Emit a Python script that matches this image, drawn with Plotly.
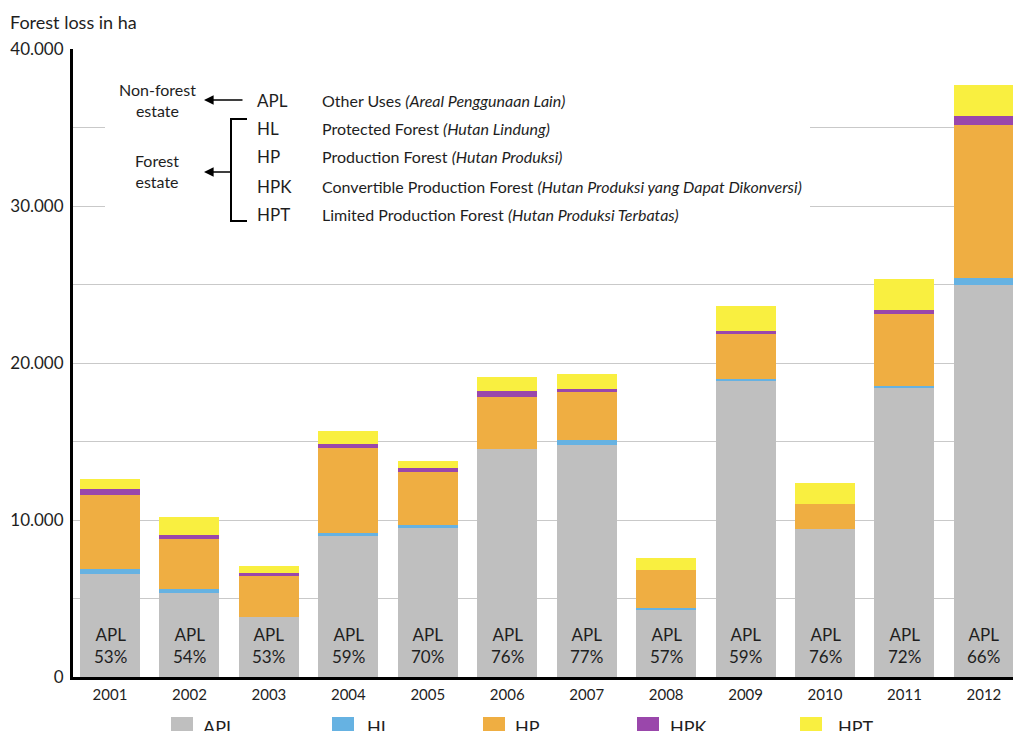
import plotly.graph_objects as go

years = ['2001', '2002', '2003', '2004', '2005', '2006', '2007', '2008', '2009', '2010', '2011', '2012']
APL = [6570, 5380, 3800, 8950, 9460, 14530, 14800, 4275, 18840, 9400, 18380, 24980]
HL = [320, 235, 0, 220, 220, 20, 320, 150, 170, 0, 130, 420]
HP = [4720, 3170, 2630, 5440, 3360, 3290, 3040, 2400, 2830, 1640, 4610, 9750]
HPK = [340, 230, 170, 210, 260, 380, 170, 0, 190, 0, 270, 590]
HPT = [660, 1190, 470, 870, 470, 890, 980, 750, 1600, 1320, 1940, 1980]
apl_pct = ['53%', '54%', '53%', '59%', '70%', '76%', '77%', '57%', '59%', '76%', '72%', '66%']

series_names = ['APL', 'HL', 'HP', 'HPK', 'HPT']
series_values = [APL, HL, HP, HPK, HPT]
colors = ['#bfbfbf', '#66b2e2', '#efae42', '#9a47ab', '#f9ef40']

codes = ['APL', 'HL', 'HP', 'HPK', 'HPT']
descs = ['Other Uses', 'Protected Forest', 'Production Forest',
         'Convertible Production Forest', 'Limited Production Forest']
descs_it = ['(Areal Penggunaan Lain)', '(Hutan Lindung)', '(Hutan Produksi)',
            '(Hutan Produksi yang Dapat Dikonversi)', '(Hutan Produksi Terbatas)']

yticks = [0, 5000, 10000, 15000, 20000, 25000, 30000, 35000, 40000]
yticktext = ['0', '', '10.000', '', '20.000', '', '30.000', '', '40.000']

FONT = 'Lato'
TXT = '#1e1e1e'
W, H = 1013, 731
L, R, T, B = 73, 0, 49, 54
PW, PH = W - L - R, H - T - B


def px(x):
    return (x - L) / PW


def py(y):
    return (H - B - y) / PH


fig = go.Figure()
for name, vals, col in zip(series_names, series_values, colors):
    fig.add_trace(go.Bar(x=years, y=vals, name=name, marker_color=col,
                         marker_line_width=0, showlegend=False, hoverinfo='skip'))

ann = []
# APL labels inside bars
for i, (yr, pct) in enumerate(zip(years, apl_pct)):
    ann.append(dict(x=i, y=py(645), xref='x', yref='paper', text='APL<br>' + pct,
                    showarrow=False, xanchor='center', yanchor='middle', align='center',
                    font=dict(size=17, color=TXT, family=FONT)))

# title
ann.append(dict(x=px(8), y=py(22), xref='paper', yref='paper', text='Forest loss in ha',
                showarrow=False, xanchor='left', yanchor='middle',
                font=dict(size=18, color=TXT, family=FONT)))

# key block
ann.append(dict(x=px(157), y=py(100), xref='paper', yref='paper', text='Non-forest<br>estate',
                showarrow=False, xanchor='center', yanchor='middle', align='center',
                font=dict(size=16, color=TXT, family=FONT)))
ann.append(dict(x=px(157), y=py(171), xref='paper', yref='paper', text='Forest<br>estate',
                showarrow=False, xanchor='center', yanchor='middle', align='center',
                font=dict(size=16, color=TXT, family=FONT)))
code_y = [100, 128, 157, 186, 214]
for c, d, di, yy in zip(codes, descs, descs_it, code_y):
    ann.append(dict(x=px(255), y=py(yy), xref='paper', yref='paper', text=c,
                    showarrow=False, xanchor='left', yanchor='middle',
                    font=dict(size=17, color=TXT, family=FONT)))
    ann.append(dict(x=px(320), y=py(yy), xref='paper', yref='paper',
                    text=d + ' <i>' + di + '</i>',
                    showarrow=False, xanchor='left', yanchor='middle',
                    font=dict(size=16, color=TXT, family=FONT)))
# arrows
ann.append(dict(x=px(204), y=py(100), xref='paper', yref='paper', text='', showarrow=True,
                ax=40, ay=0, arrowhead=2, arrowsize=1.2, arrowwidth=1.6, arrowcolor='black'))
ann.append(dict(x=px(204), y=py(172), xref='paper', yref='paper', text='', showarrow=True,
                ax=28, ay=0, arrowhead=2, arrowsize=1.2, arrowwidth=1.6, arrowcolor='black'))

shapes = [
    dict(type='rect', xref='paper', yref='paper', x0=px(105), x1=px(810), y0=py(232), y1=py(58),
         fillcolor='white', line=dict(width=0), layer='above'),
    dict(type='line', xref='paper', yref='paper', x0=px(231), x1=px(231), y0=py(118), y1=py(222),
         line=dict(color='black', width=2)),
    dict(type='line', xref='paper', yref='paper', x0=px(231), x1=px(247), y0=py(119), y1=py(119),
         line=dict(color='black', width=2)),
    dict(type='line', xref='paper', yref='paper', x0=px(231), x1=px(247), y0=py(221), y1=py(221),
         line=dict(color='black', width=2)),
]

# bottom legend (custom)
leg_sq_x = [171, 332, 483, 637, 800]
leg_tx_x = [201, 365, 513, 668, 836]
for name, col, sx, tx in zip(series_names, colors, leg_sq_x, leg_tx_x):
    shapes.append(dict(type='rect', xref='paper', yref='paper', x0=px(sx), x1=px(sx + 22),
                       y0=py(739), y1=py(717), fillcolor=col, line=dict(width=0)))
    ann.append(dict(x=px(tx), y=py(727), xref='paper', yref='paper', text=name,
                    showarrow=False, xanchor='left', yanchor='middle',
                    font=dict(size=18, color=TXT, family=FONT)))

fig.update_layout(
    barmode='stack', bargap=0.245,
    width=W, height=H,
    margin=dict(l=L, r=R, t=T, b=B, pad=0),
    plot_bgcolor='white', paper_bgcolor='white',
    font=dict(family=FONT, color=TXT),
    showlegend=False,
    annotations=ann, shapes=shapes,
    xaxis=dict(range=[-0.466, 11.366], showline=True, linecolor='black', linewidth=3,
               ticks='', showgrid=False, tickfont=dict(size=15, color=TXT, family=FONT),
               ticklabelstandoff=2),
    yaxis=dict(range=[0, 40000], tickvals=yticks, ticktext=yticktext, showline=True,
               linecolor='black', linewidth=3, ticks='', showgrid=True, gridcolor='#c9c9c9',
               gridwidth=1.3, zeroline=False, tickfont=dict(size=17, color=TXT, family=FONT),
               ticklabelstandoff=3),
)

fig.write_html('out.html', config={'displayModeBar': False},
               post_script="document.body.style.margin='0';document.body.style.overflow='hidden';")
